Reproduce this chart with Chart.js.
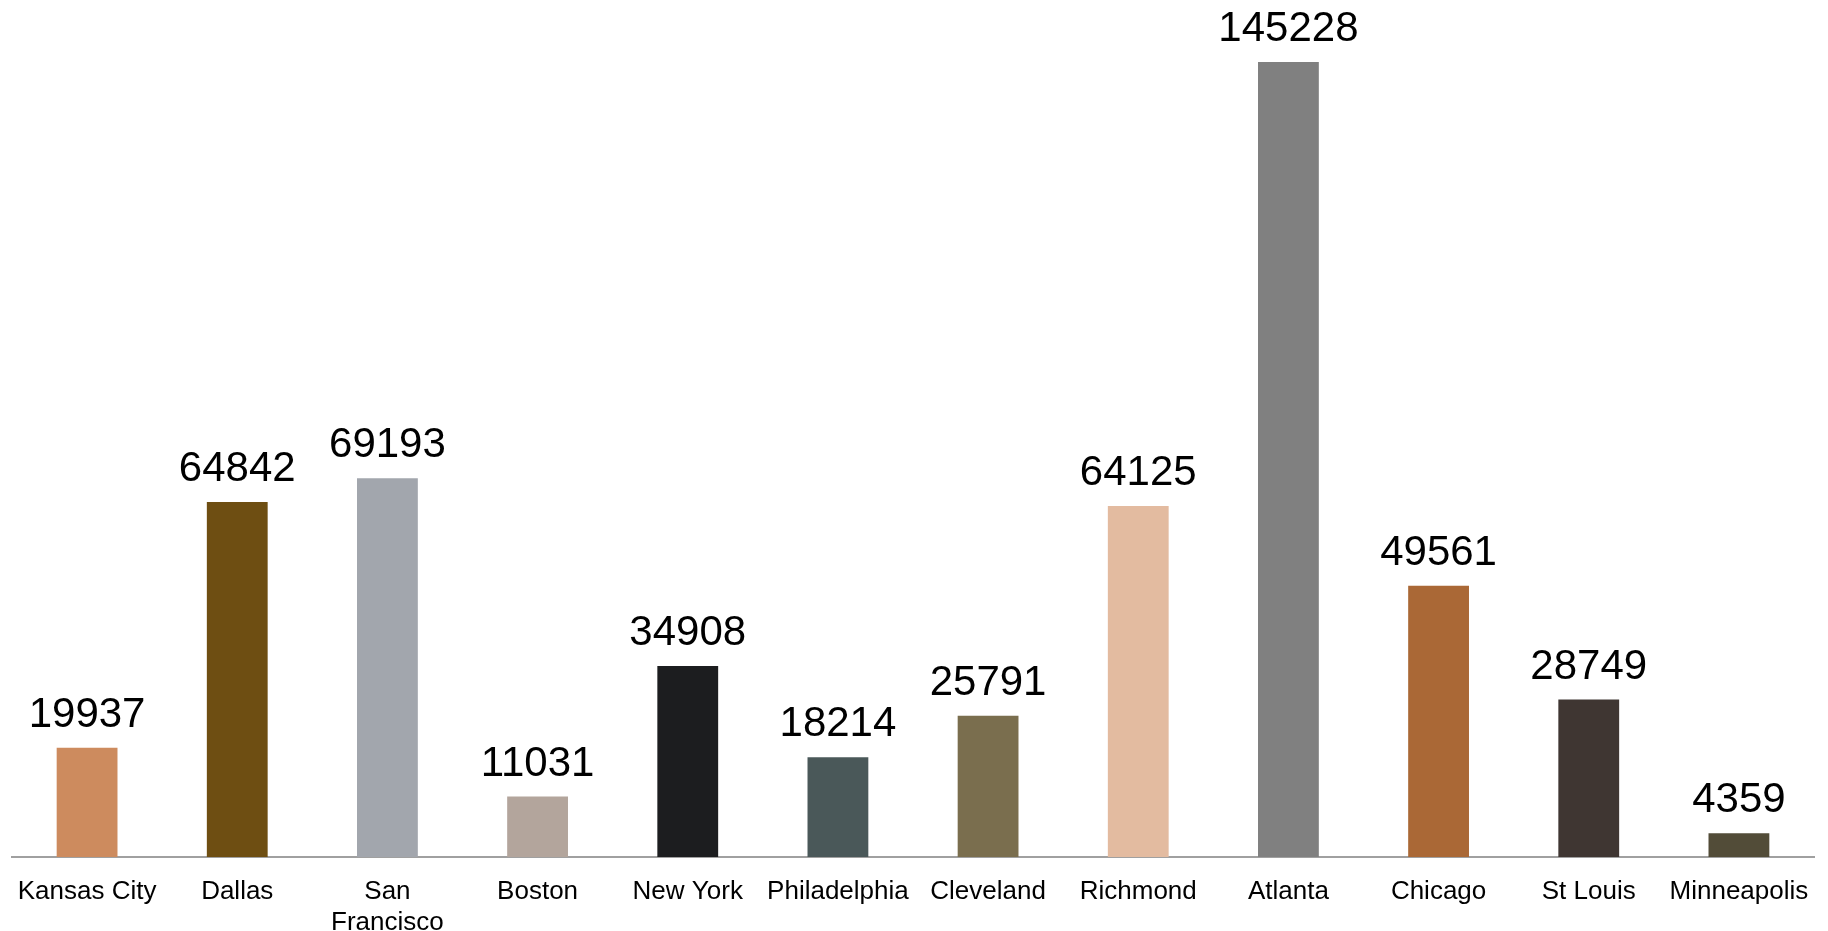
<!DOCTYPE html>
<html>
<head>
<meta charset="utf-8">
<script src="https://cdn.jsdelivr.net/npm/chart.js@4/dist/chart.umd.min.js"></script>
<style>
  body { margin: 0; background: #fff; }
  canvas { display: block; }
</style>
</head>
<body>
<canvas id="bankChart" width="1828" height="931"></canvas>
<script>
const cities = ["Kansas City", "Dallas", ["San", "Francisco"], "Boston", "New York",
  "Philadelphia", "Cleveland", "Richmond", "Atlanta", "Chicago", "St Louis", "Minneapolis"];
const amounts = [19937, 64842, 69193, 11031, 34908, 18214, 25791, 64125, 145228, 49561, 28749, 4359];
const barColors = ["#cd8b5e", "#6e4e12", "#a2a6ad", "#b3a59c", "#1c1d1f", "#4a5859",
  "#7a6e4e", "#e3bba0", "#808080", "#aa6836", "#3f3632", "#524c38"];

const FONT = "'Liberation Sans', Arial, sans-serif";

// value labels above each bar
const valueLabels = {
  id: "valueLabels",
  afterDatasetsDraw(chart) {
    const ctx = chart.ctx;
    const meta = chart.getDatasetMeta(0);
    ctx.save();
    ctx.font = "42px " + FONT;
    ctx.fillStyle = "#000";
    ctx.textAlign = "center";
    ctx.textBaseline = "alphabetic";
    meta.data.forEach((bar, i) => {
      ctx.fillText(String(amounts[i]), bar.x, bar.y - 21);
    });
    ctx.restore();
  }
};

const ctx = document.getElementById("bankChart").getContext("2d");
new Chart(ctx, {
  type: "bar",
  data: {
    labels: cities,
    datasets: [{
      data: amounts,
      backgroundColor: barColors,
      barPercentage: 0.405,
      categoryPercentage: 1
    }]
  },
  options: {
    responsive: false,
    animation: false,
    layout: { padding: { left: 12, right: 14, top: 62, bottom: 0 } },
    plugins: {
      legend: { display: false },
      tooltip: { enabled: false }
    },
    scales: {
      x: {
        grid: { display: false, drawTicks: false },
        border: { color: "#a0a0a0", width: 2 },
        afterFit(scale) {
          scale.height = 74;
          scale.paddingLeft = 0;
          scale.paddingRight = 0;
        },
        ticks: {
          color: "#000",
          font: { family: FONT, size: 26 },
          lineHeight: 1.15,
          padding: 19,
          maxRotation: 0,
          autoSkip: false
        }
      },
      y: {
        display: false,
        min: 0,
        max: Math.max(...amounts)
      }
    }
  },
  plugins: [valueLabels]
});
</script>
</body>
</html>
